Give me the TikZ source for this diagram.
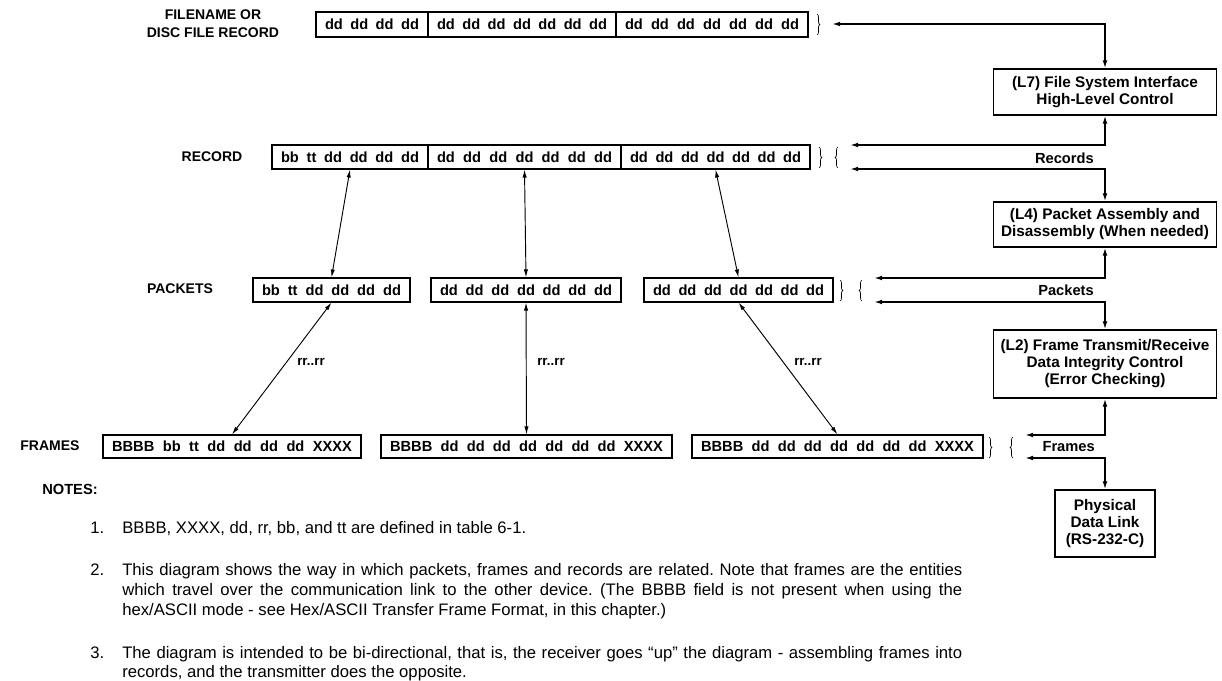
\documentclass[tikz,border=0pt]{standalone}
\usepackage{fontspec}
\setmainfont{Liberation Sans}
\usetikzlibrary{arrows.meta,decorations.pathreplacing}
\begin{document}
\frenchspacing
\begin{tikzpicture}[x=0.75pt,y=-0.75pt,
 seg/.style={draw,line width=0.8pt,inner sep=0pt,minimum height=18pt,font=\bfseries\fontsize{11}{13}\selectfont},
 lbox/.style={draw,line width=0.8pt,align=center,inner sep=0pt,font=\bfseries\fontsize{11.5}{12.75}\selectfont},
 conn/.style={line width=1.1pt,{Latex[length=6pt,width=3.5pt]}-{Latex[length=6pt,width=3.5pt]}},
 dconn/.style={line width=0.7pt,{Latex[length=6pt,width=3.2pt]}-{Latex[length=6pt,width=3.2pt]}},
 br/.style={decorate,decoration={brace,amplitude=2.2pt},line width=0.5pt},
 lab/.style={font=\bfseries\fontsize{10.5}{13.5}\selectfont,align=center,inner sep=0pt},
 rlab/.style={font=\bfseries\fontsize{11}{13}\selectfont,anchor=east,inner sep=0pt},
 rrlab/.style={font=\bfseries\fontsize{10}{12}\selectfont,inner sep=0pt},
 notetxt/.style={font=\fontsize{12.5}{15}\selectfont,anchor=base west,inner sep=0pt},
 notehead/.style={font=\bfseries\fontsize{11}{13}\selectfont,anchor=west,inner sep=0pt},
]
\fill[white] (0,0) rectangle (1222,681);
\useasboundingbox (0,0) rectangle (1222,681);

% left labels
\node[lab] (lfile) at (213,24) {FILENAME OR\\DISC FILE RECORD};
\node[lab] (lrec) at (212,157) {RECORD};
\node[lab] (lpack) at (180,289) {PACKETS};
\node[lab] (lfram) at (50,446) {FRAMES};

% top row
\node[seg,minimum width=84pt,minimum height=18.75pt] (t1) at (372,24.5) {\makebox[70.5pt][s]{dd dd dd dd}};
\node[seg,minimum width=141pt,minimum height=18.75pt] (t2) at (522,24.5) {\makebox[127.5pt][s]{dd dd dd dd dd dd dd}};
\node[seg,minimum width=144pt,minimum height=18.75pt] (t3) at (712,24.5) {\makebox[130.5pt][s]{dd dd dd dd dd dd dd}};

% record row
\node[seg,minimum width=117pt] (r1) at (350,157) {\makebox[103.5pt][s]{bb tt dd dd dd dd}};
\node[seg,minimum width=144.75pt] (r2) at (524.5,157) {\makebox[131.25pt][s]{dd dd dd dd dd dd dd}};
\node[seg,minimum width=141.75pt] (r3) at (715.5,157) {\makebox[128.25pt][s]{dd dd dd dd dd dd dd}};

% packets row
\node[seg,minimum width=117.75pt] (p1) at (331.5,290) {\makebox[104.25pt][s]{bb tt dd dd dd dd}};
\node[seg,minimum width=142.5pt] (p2) at (526,290) {\makebox[129pt][s]{dd dd dd dd dd dd dd}};
\node[seg,minimum width=141.75pt] (p3) at (738.5,290) {\makebox[128.25pt][s]{dd dd dd dd dd dd dd}};

% frames row
\node[seg,minimum width=193.5pt,minimum height=17.25pt] (f1) at (232,446.5) {\makebox[180pt][s]{BBBB bb tt dd dd dd dd XXXX}};
\node[seg,minimum width=218.25pt,minimum height=17.25pt] (f2) at (526.5,446.5) {\makebox[204.75pt][s]{BBBB dd dd dd dd dd dd dd XXXX}};
\node[seg,minimum width=218.25pt,minimum height=17.25pt] (f3) at (837.5,446.5) {\makebox[204.75pt][s]{BBBB dd dd dd dd dd dd dd XXXX}};

% diagonal connectors
\draw[dconn] (r1.south) -- (p1.north);
\draw[dconn] (r2.south) -- (p2.north);
\draw[dconn] (r3.south) -- (p3.north);
\draw[dconn] (p1.south) -- (f1.north);
\draw[dconn] (p2.south) -- (f2.north);
\draw[dconn] (p3.south) -- (f3.north);
\node[rrlab] (rr1) at (311,362) {rr..rr};
\node[rrlab] (rr2) at (551,362) {rr..rr};
\node[rrlab] (rr3) at (808,362) {rr..rr};

% right column boxes
\node[lbox,minimum width=167pt,minimum height=34.5pt] (L7) at (1105,92) {(L7) File System Interface\\High-Level Control};
\node[lbox,minimum width=167pt,minimum height=33.75pt] (L4) at (1105,224.5) {(L4) Packet Assembly and\\Disassembly (When needed)};
\node[lbox,minimum width=167pt,minimum height=51pt] (L2) at (1105,364) {(L2) Frame Transmit/Receive\\Data Integrity Control\\(Error Checking)};
\node[lbox,minimum width=75pt,minimum height=50.25pt] (PH) at (1105,523.5) {Physical\\Data Link\\(RS-232-C)};

% braces
\draw[br] (817,14) -- (817,35);
\draw[br] (819,147) -- (819,168);
\draw[br] (838,168) -- (838,147);
\draw[br] (840,280) -- (840,301);
\draw[br] (862,301) -- (862,280);
\draw[br] (989,437) -- (989,458);
\draw[br] (1013,458) -- (1013,437);

% arrow tips near braces
\coordinate (aT) at (832,24);
\coordinate (aR1) at (850,145);
\coordinate (aR2) at (850,169);
\coordinate (aP1) at (874,278);
\coordinate (aP2) at (874,302);
\coordinate (aF1) at (1025,435);
\coordinate (aF2) at (1025,458);

\draw[conn] (aT) -| (L7.north);
\draw[conn] (L7.south) |- (aR1);
\draw[conn] (aR2) -| (L4.north);
\draw[conn] (L4.south) |- (aP1);
\draw[conn] (aP2) -| (L2.north);
\draw[conn] (L2.south) |- (aF1);
\draw[conn] (aF2) -| (PH.north);

\node[rlab] (lrecs) at (1094,158) {Records};
\node[rlab] (lpacks) at (1094,290) {Packets};
\node[rlab] (lframs) at (1095,447) {Frames};

% notes
\node[notehead] (notes) at (42,489) {NOTES:};
\node[notetxt] (n1) at (90,533) {1.};
\node[notetxt] (n1a) at (122,533) {BBBB, XXXX, dd, rr, bb, and tt are defined in table 6-1.};
\node[notetxt] (n2) at (90,575) {2.};
\node[notetxt] (n2a) at (122,575) {\makebox[630pt][s]{This diagram shows the way in which packets, frames and records are related. Note that frames are the entities}};
\node[notetxt] (n2b) at (122,595) {\makebox[630pt][s]{which travel over the communication link to the other device. (The BBBB field is not present when using the}};
\node[notetxt] (n2c) at (122,615) {hex/ASCII mode - see Hex/ASCII Transfer Frame Format, in this chapter.)};
\node[notetxt] (n3) at (90,658) {3.};
\node[notetxt] (n3a) at (122,658) {\makebox[630pt][s]{The diagram is intended to be bi-directional, that is, the receiver goes “up” the diagram - assembling frames into}};
\node[notetxt] (n3b) at (122,677) {records, and the transmitter does the opposite.};
\end{tikzpicture}
\end{document}
